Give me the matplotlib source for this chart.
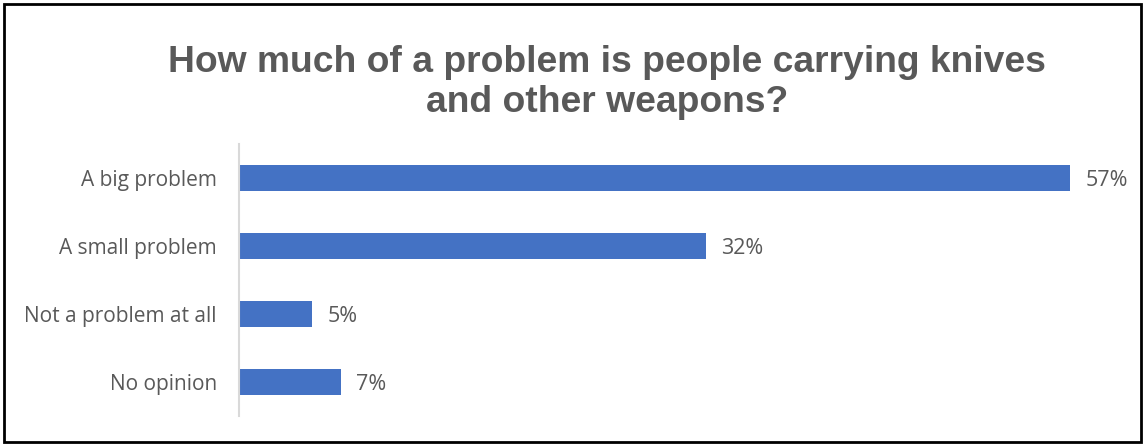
import matplotlib.pyplot as plt
from matplotlib.patches import Rectangle

categories = ["A big problem", "A small problem", "Not a problem at all", "No opinion"]
values = [57, 32, 5, 7]
value_labels = ["57%", "32%", "5%", "7%"]

grey = "#595959"
blue = "#4472C4"

fig = plt.figure(figsize=(11.43, 4.46), dpi=100)
ax = fig.add_axes([0.2091, 0.0673, 0.7655, 0.6099])

ypos = list(range(len(categories)))
ax.barh(ypos, values, height=0.38, color=blue)
ax.set_ylim(3.5, -0.5)
ax.set_xlim(0, 60)

for y, v, lab in zip(ypos, values, value_labels):
    ax.annotate(lab, (v, y), xytext=(11, 0), textcoords="offset points",
                ha="left", va="center_baseline", fontsize=15.5, color=grey,
                family="Open Sans")

ax.set_yticks(ypos)
ax.set_yticklabels(categories, fontsize=15, color=grey, family="Open Sans",
                   va="center_baseline")
ax.tick_params(axis="y", length=0, pad=16)
ax.set_xticks([])
for s in ["top", "right", "bottom"]:
    ax.spines[s].set_visible(False)
ax.spines["left"].set_color("#d9d9d9")
ax.spines["left"].set_linewidth(1.5)

fig.text(0.531, 0.815, "How much of a problem is people carrying knives\nand other weapons?",
         ha="center", va="center", fontsize=26.8, fontweight="bold", color=grey,
         family="Liberation Sans", linespacing=1.15)

fig.patches.append(Rectangle((4 / 1143, 4 / 446), 1137 / 1143, 438 / 446,
                             transform=fig.transFigure, fill=False,
                             edgecolor="black", linewidth=2))

fig.savefig("out.png", dpi=100)
